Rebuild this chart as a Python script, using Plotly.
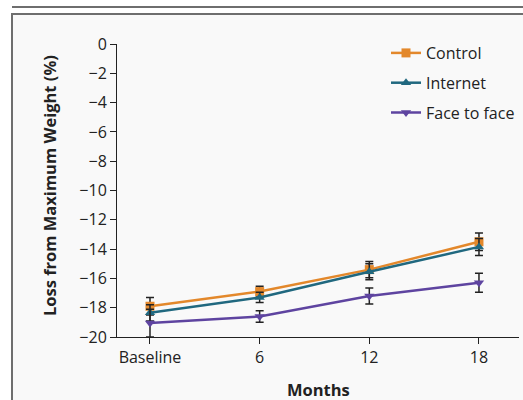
import plotly.graph_objects as go

months = [0, 6, 12, 18]
tick_labels = ["Baseline", "6", "12", "18"]

control = [-17.9, -16.9, -15.4, -13.5]
control_err = [0.6, 0.37, 0.55, 0.6]
internet = [-18.35, -17.3, -15.55, -13.85]
internet_err = [0.55, 0.35, 0.55, 0.58]
face = [-19.05, -18.6, -17.2, -16.3]
face_err = [0.95, 0.4, 0.55, 0.65]

series = [
    ("Control", control, control_err, "#E3882B", "square"),
    ("Internet", internet, internet_err, "#20687F", "triangle-up"),
    ("Face to face", face, face_err, "#5E44A0", "triangle-down"),
]

FONT = "Open Sans"

fig = go.Figure()
for i, (name, vals, errs, col, sym) in enumerate(series):
    fig.add_trace(go.Scatter(
        x=months, y=vals, name=name, mode="lines+markers",
        legendgroup=f"g{i}",
        line=dict(color=col, width=2.5),
        marker=dict(symbol=sym, size=9, color=col),
        error_y=dict(type="data", array=errs, visible=True,
                     color="#222222", thickness=1.5, width=4),
    ))

# plot area: x 117..519 px, y 44..337 px
L, R, T, B = 117, 519, 44, 337
W, H = R - L, B - T
def px(x):
    return (x - L) / W
def py(y):
    return (B - y) / H

shapes = [
    dict(type="rect", xref="paper", yref="paper", layer="below",
         x0=px(12), x1=px(540), y0=py(14), y1=py(420),
         fillcolor="#f9f9f9", line=dict(color="#6e6e6e", width=2)),
    dict(type="line", xref="paper", yref="paper",
         x0=px(12), x1=px(540), y0=py(7), y1=py(7),
         line=dict(color="#6e6e6e", width=2)),
]

annotations = [
    dict(text="<b>Months</b>", xref="paper", yref="paper",
         x=px(318), y=py(389), xanchor="center", yanchor="middle",
         showarrow=False, font=dict(size=16.5, family=FONT)),
    dict(text="<b>Loss from Maximum Weight (%)</b>", xref="paper", yref="paper",
         x=px(49), y=py(186), xanchor="center", yanchor="middle",
         textangle=-90, showarrow=False, font=dict(size=16.5, family=FONT)),
]

fig.update_layout(
    width=523, height=400,
    margin=dict(l=L, r=523 - R, t=T, b=400 - B, autoexpand=False),
    paper_bgcolor="white", plot_bgcolor="rgba(0,0,0,0)",
    font=dict(family=FONT, size=14, color="#222222"),
    shapes=shapes, annotations=annotations,
    showlegend=True,
    legend=dict(x=px(386), y=py(36), xanchor="left", yanchor="top",
                bgcolor="rgba(0,0,0,0)", font=dict(size=16, family=FONT),
                traceorder="grouped", tracegroupgap=6),
    xaxis=dict(range=[-1.805, 20.19], tickvals=months, ticktext=tick_labels,
               showgrid=False, zeroline=False, showline=True, automargin=False,
               linecolor="#222222", linewidth=1, ticks="outside",
               ticklen=6, tickcolor="#222222",
               tickfont=dict(size=16, family=FONT)),
    yaxis=dict(range=[-20, 0], dtick=2, showgrid=False, zeroline=False,
               showline=True, automargin=False, linecolor="#222222", linewidth=1,
               ticks="outside", ticklen=6, tickcolor="#222222",
               tickfont=dict(size=16, family=FONT)),
)

fig.write_html("out.html", config={"displayModeBar": False},
               post_script="document.body.style.margin='0px';")
